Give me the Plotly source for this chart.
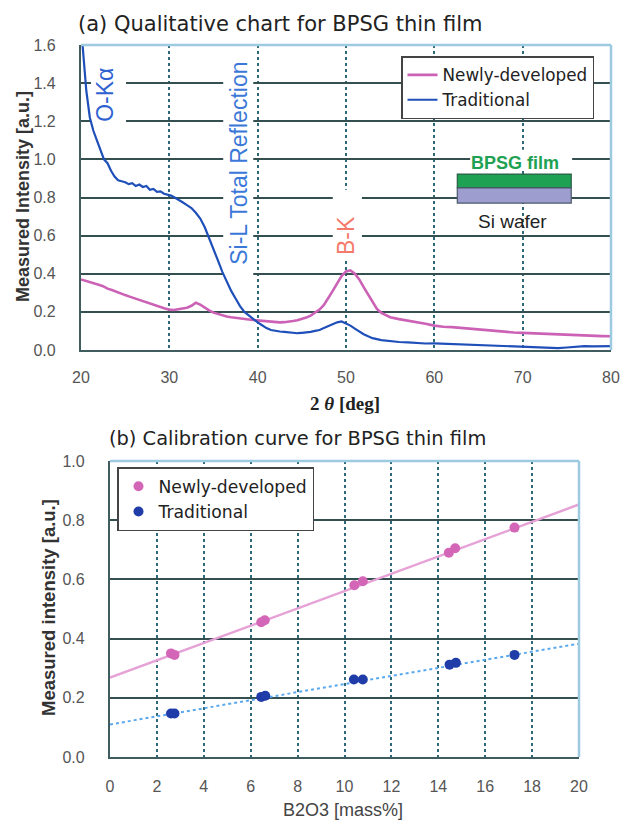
import plotly.graph_objects as go

# ---------------- (a) Qualitative chart data ----------------
two_theta_trad = [20.0, 20.3, 20.6,
                  21.0, 21.4, 21.8, 22.2, 22.6, 23.0, 23.4, 23.8, 24.2, 24.6, 25.0, 25.4, 25.8,
                  26.2, 26.6, 27.0, 27.4, 27.8, 28.2, 28.6, 29.0, 29.4, 29.8, 30.2, 30.6, 31.0,
                  31.5, 32.0, 32.5, 33.0, 33.5, 34.0, 34.5, 35.0, 35.5, 36.0, 36.5, 37.0, 37.5,
                  38.0, 38.5, 39.0, 39.5, 40.0, 40.5, 41.0, 41.5, 42.0, 42.5, 43.0, 43.5, 44.0,
                  44.5, 45.0, 45.5, 46.0, 46.5, 47.0, 47.5, 48.0, 48.5, 49.0, 49.5, 50.0, 50.5,
                  51.0, 51.5, 52.0, 52.5,
                  53, 54, 55, 56, 57, 58, 59, 60, 61, 62, 63, 64, 65, 66, 67, 68, 69, 70, 71, 72,
                  73, 74, 75, 76, 77, 78, 79, 80]
intensity_trad = [1.70, 1.52, 1.36,
                  1.22, 1.15, 1.10, 1.05, 1.00, 0.98, 0.94, 0.91, 0.89, 0.885, 0.88, 0.87, 0.875,
                  0.86, 0.868, 0.855, 0.86, 0.84, 0.845, 0.83, 0.832, 0.82, 0.815, 0.81, 0.80, 0.79,
                  0.775, 0.76, 0.745, 0.72, 0.69, 0.645, 0.59, 0.53, 0.47, 0.41, 0.355, 0.31, 0.27,
                  0.23, 0.20, 0.18, 0.16, 0.145, 0.13, 0.115, 0.105, 0.10, 0.097, 0.095, 0.092, 0.09,
                  0.088, 0.09, 0.092, 0.095, 0.10, 0.105, 0.115, 0.125, 0.135, 0.145, 0.15, 0.14, 0.128,
                  0.112, 0.097, 0.083, 0.072,
                  0.062, 0.052, 0.046, 0.042, 0.04, 0.036, 0.034, 0.035, 0.033, 0.031, 0.03, 0.028,
                  0.027, 0.025, 0.023, 0.021, 0.018, 0.016, 0.014, 0.012, 0.011, 0.01, 0.013, 0.018,
                  0.02, 0.019, 0.021, 0.02]

two_theta_new = [20.0, 20.5, 21.0, 21.5, 22.0, 22.5, 23.0, 23.5, 24.0, 24.5, 25.0, 25.5, 26.0,
                 26.5, 27.0, 27.5, 28.0, 28.5, 29.0, 29.5, 30.0, 30.5, 31.0, 31.5, 32.0, 32.5,
                 33.0, 33.5, 34.0, 34.5, 35.0, 35.5, 36.0, 36.5, 37.0, 37.5, 38.0, 38.5, 39.0,
                 39.5, 40.0, 40.5, 41.0, 41.5, 42.0, 42.5, 43.0, 43.5, 44.0, 44.5, 45.0, 45.5,
                 46.0, 46.5, 47.0, 47.5, 48.0, 48.5, 49.0, 49.5, 50.0, 50.5, 51.0, 51.5, 52.0,
                 52.5, 53.0, 53.5, 54.0, 54.5, 55.0,
                 56, 57, 58, 59, 60, 61, 62, 63, 64, 65, 66, 67, 68, 69, 70, 71, 72, 73, 74, 75,
                 76, 77, 78, 79, 80]
intensity_new = [0.37, 0.362, 0.358, 0.348, 0.342, 0.335, 0.322, 0.315, 0.305, 0.298, 0.288, 0.28, 0.272,
                 0.262, 0.255, 0.248, 0.24, 0.232, 0.225, 0.218, 0.212, 0.21, 0.214, 0.218, 0.222, 0.232,
                 0.248, 0.238, 0.222, 0.208, 0.196, 0.188, 0.182, 0.176, 0.172, 0.168, 0.165, 0.162, 0.16,
                 0.157, 0.155, 0.152, 0.15, 0.148, 0.146, 0.145, 0.146, 0.148, 0.152, 0.156, 0.162, 0.17,
                 0.18, 0.194, 0.212, 0.236, 0.27, 0.31, 0.35, 0.388, 0.412, 0.418, 0.40, 0.37, 0.33,
                 0.29, 0.25, 0.215, 0.195, 0.182, 0.172,
                 0.162, 0.155, 0.147, 0.138, 0.128, 0.122, 0.12, 0.116, 0.112, 0.106, 0.102, 0.10,
                 0.096, 0.092, 0.09, 0.088, 0.086, 0.083, 0.08, 0.079, 0.078, 0.076, 0.074, 0.073, 0.072]

# ---------------- (b) Calibration curve data ----------------
b2o3_new = [2.6, 2.75, 6.45, 6.6, 10.42, 10.78, 14.45, 14.72, 17.25]
calib_new = [0.35, 0.345, 0.455, 0.462, 0.58, 0.594, 0.69, 0.705, 0.775]
b2o3_trad = [2.6, 2.75, 6.45, 6.62, 10.4, 10.78, 14.48, 14.75, 17.25]
calib_trad = [0.147, 0.147, 0.203, 0.207, 0.262, 0.262, 0.312, 0.318, 0.345]
fit_x = [0, 20]
fit_new = [0.268, 0.853]
fit_trad = [0.11, 0.383]

W, H = 620, 820
def px(x):
    return x / W
def py(y):
    return 1 - y / H

PINK = "#cc62b6"
BLUE = "#1f4fb8"
GRID = "#344f50"
VGRID = "#2f6878"
BORDER = "#9ccbe0"
TICKC = "#555555"

fig = go.Figure()

fig.add_trace(go.Scatter(x=two_theta_new, y=intensity_new, mode="lines", name="Newly-developed",
                         line=dict(color=PINK, width=2.6), xaxis="x", yaxis="y", legend="legend"))
fig.add_trace(go.Scatter(x=two_theta_trad, y=intensity_trad, mode="lines", name="Traditional",
                         line=dict(color=BLUE, width=2.2), xaxis="x", yaxis="y", legend="legend"))

fig.add_trace(go.Scatter(x=fit_x, y=fit_new, mode="lines", showlegend=False,
                         line=dict(color="#e6a2d6", width=2.5), xaxis="x2", yaxis="y2"))
fig.add_trace(go.Scatter(x=fit_x, y=fit_trad, mode="lines", showlegend=False,
                         line=dict(color="#5aa8ee", width=2, dash="dot"), xaxis="x2", yaxis="y2"))
fig.add_trace(go.Scatter(x=b2o3_new, y=calib_new, mode="markers", name="Newly-developed",
                         marker=dict(color="#d466b8", size=10), xaxis="x2", yaxis="y2", legend="legend2"))
fig.add_trace(go.Scatter(x=b2o3_trad, y=calib_trad, mode="markers", name="Traditional",
                         marker=dict(color="#1f3ca8", size=10), xaxis="x2", yaxis="y2", legend="legend2"))

tickfont = dict(family="Liberation Sans", size=16, color=TICKC)
common_x = dict(showgrid=True, gridcolor=VGRID, gridwidth=1.5, griddash="dot",
                showline=True, linecolor="#3f5c5e", linewidth=2.2, ticks="",
                tickfont=tickfont, zeroline=False, automargin=False)
common_y = dict(showgrid=True, gridcolor=GRID, gridwidth=1.6,
                showline=True, linecolor="#3f5c5e", linewidth=2.2, ticks="",
                tickfont=tickfont, zeroline=False, tickformat=".1f", automargin=False)

fig.update_layout(
    width=W, height=H, margin=dict(l=0, r=0, t=0, b=0, autoexpand=False),
    paper_bgcolor="white", plot_bgcolor="white",
    xaxis=dict(domain=[px(81), px(611)], range=[20, 80], dtick=10, tick0=20,
               anchor="y", ticklabelstandoff=12, **common_x),
    yaxis=dict(domain=[py(350), py(45)], range=[0, 1.6], dtick=0.2, tick0=0,
               anchor="x", ticklabelstandoff=20, **common_y),
    xaxis2=dict(domain=[px(110), px(579)], range=[0, 20], dtick=2, tick0=0,
                anchor="y2", ticklabelstandoff=14, **common_x),
    yaxis2=dict(domain=[py(757), py(461)], range=[0, 1.0], dtick=0.2, tick0=0,
                anchor="x2", ticklabelstandoff=20, **common_y),
    legend=dict(x=px(401), y=py(56), xanchor="left", yanchor="top",
                bgcolor="white", bordercolor="#444444", borderwidth=1.5,
                font=dict(family="DejaVu Sans", size=16.8, color="#222222"),
                tracegroupgap=0),
    legend2=dict(x=px(117), y=py(467), xanchor="left", yanchor="top",
                 bgcolor="white", bordercolor="#444444", borderwidth=1.5,
                 font=dict(family="DejaVu Sans", size=17.2, color="#222222"),
                 itemwidth=30),
    showlegend=True,
)

shapes = []
# light-blue top/right borders of both plot areas
for xr, yr in (("x", "y"), ("x2", "y2")):
    shapes.append(dict(type="line", xref=xr + " domain", yref=yr + " domain", x0=0, x1=1, y0=1, y1=1,
                       line=dict(color=BORDER, width=2.5), layer="above"))
    shapes.append(dict(type="line", xref=xr + " domain", yref=yr + " domain", x0=1, x1=1, y0=0, y1=1,
                       line=dict(color=BORDER, width=2.5), layer="above"))
# white boxes behind text labels (hide gridlines, not curves)
for x0, x1, y0, y1 in ((21.13, 25.1, 1.165, 1.52), (36.1, 39.5, 0.367, 1.57),
                       (48.5, 51.8, 0.47, 0.84), (64.05, 75.6, 0.944, 1.05)):
    shapes.append(dict(type="rect", xref="x", yref="y", x0=x0, x1=x1, y0=y0, y1=y1,
                       fillcolor="white", line=dict(width=0), layer="between"))
# inset: BPSG film on Si wafer
shapes.append(dict(type="rect", xref="x", yref="y", x0=62.6, x1=75.5, y0=0.85, y1=0.923,
                   fillcolor="#1ea152", line=dict(color="#2b5e48", width=1.2), layer="above"))
shapes.append(dict(type="rect", xref="x", yref="y", x0=62.6, x1=75.5, y0=0.771, y1=0.85,
                   fillcolor="#9d9dd0", line=dict(color="#4a5a6a", width=1.2), layer="above"))
fig.update_layout(shapes=shapes)

ann = []
ann.append(dict(text="(a) Qualitative chart for BPSG thin film", xref="paper", yref="paper",
                x=px(76), y=py(24), xanchor="left", yanchor="middle", showarrow=False,
                font=dict(family="DejaVu Sans", size=21, color="#222222")))
ann.append(dict(text="(b) Calibration curve for BPSG thin film", xref="paper", yref="paper",
                x=px(107), y=py(438), xanchor="left", yanchor="middle", showarrow=False,
                font=dict(family="DejaVu Sans", size=19.4, color="#222222")))
ann.append(dict(text="<b>Measured Intensity [a.u.]</b>", xref="paper", yref="paper",
                x=px(23), y=py(197), xanchor="center", yanchor="middle", textangle=-90, showarrow=False,
                font=dict(family="Liberation Sans", size=18, color="#333333")))
ann.append(dict(text="<b>Measured intensity [a.u.]</b>", xref="paper", yref="paper",
                x=px(48), y=py(608), xanchor="center", yanchor="middle", textangle=-90, showarrow=False,
                font=dict(family="Liberation Sans", size=18.5, color="#333333")))
ann.append(dict(text="<b>2 <i>θ</i> [deg]</b>", xref="paper", yref="paper",
                x=px(345), y=py(403), xanchor="center", yanchor="middle", showarrow=False,
                font=dict(family="Liberation Serif", size=19, color="#222222")))
ann.append(dict(text="B2O3 [mass%]", xref="paper", yref="paper",
                x=px(343), y=py(810), xanchor="center", yanchor="middle", showarrow=False,
                font=dict(family="Liberation Sans", size=18, color="#444444")))
ann.append(dict(text="O-Kα", xref="x", yref="y", x=22.7, y=1.338, textangle=-90, showarrow=False,
                font=dict(family="Liberation Sans", size=23, color="#2f62d0")))
ann.append(dict(text="Si-L Total Reflection", xref="x", yref="y", x=37.8, y=0.978, textangle=-90,
                showarrow=False, font=dict(family="Liberation Sans", size=23, color="#3b78d8")))
ann.append(dict(text="B-K", xref="x", yref="y", x=50.0, y=0.598, textangle=-90, showarrow=False,
                font=dict(family="Liberation Sans", size=23, color="#f47a6a")))
ann.append(dict(text="<b>BPSG film</b>", xref="x", yref="y", x=69.15, y=0.981, showarrow=False,
                font=dict(family="Liberation Sans", size=18, color="#1ea152")))
ann.append(dict(text="Si wafer", xref="x", yref="y", x=68.9, y=0.672, showarrow=False,
                font=dict(family="Liberation Sans", size=19, color="#222222")))
fig.update_layout(annotations=ann)

fig.write_html("out.html", config={"displayModeBar": False},
               post_script="document.body.style.margin='0px';document.body.style.overflow='hidden';")
